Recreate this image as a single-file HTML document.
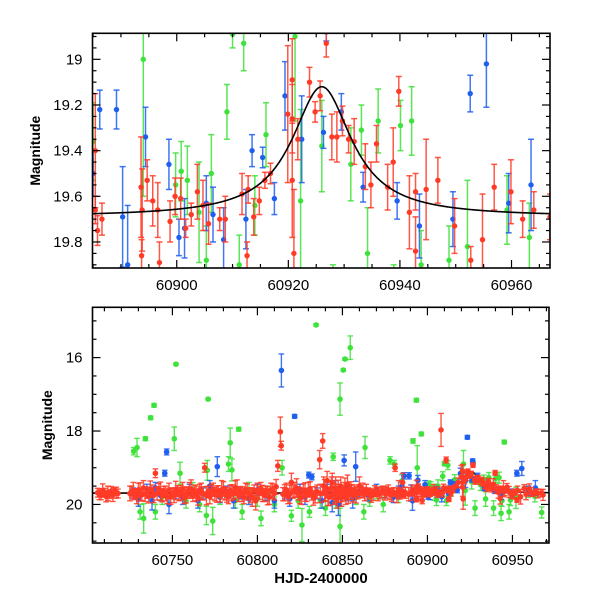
<!DOCTYPE html>
<html><head><meta charset="utf-8"><style>
html,body{margin:0;padding:0;background:#fff}
svg{display:block}
text{font-family:"Liberation Sans",sans-serif;fill:#000}
</style></head><body>
<svg id="chart" width="600" height="600" viewBox="0 0 600 600" xmlns="http://www.w3.org/2000/svg">
<defs>
<clipPath id="clipTop"><rect x="92.5" y="33.3" width="457.5" height="234.7"/></clipPath>
<clipPath id="clipBot"><rect x="92.5" y="307.3" width="456.5" height="235.7"/></clipPath>
</defs>
<g id="top"></g>
<g id="bot"></g>
</svg>
<script>
// ---- data: [HJD-2400000], magnitude, error ----
const redT=[60706,60708,60710,60713,60716,60718,60726,60728,60730,60732,60733,60735,60736,60738,60740,60741,60742,60744,60745,60747,60748,60750,60751,60753,60754,60756,60757,60759,60760,60762,60763,60765,60766,60768,60769,60771,60772,60774,60775,60777,60778,60780,60781,60783,60784,60786,60787,60789,60790,60792,60793,60795,60796,60798,60799,60801,60802,60804,60805,60807,60808,60810,60811,60812,60813.5,60814,60815,60817,60818,60820,60821,60823,60824,60826,60827,60829,60830,60832,60833,60835,60836.6,60838.4,60839,60840,60841,60842,60843,60844,60845,60846,60847,60848,60849,60850,60851,60852,60853,60854,60855,60856,60857,60859,60860,60861,60863,60864,60866,60868,60870,60872,60874,60876,60878,60880,60881,60882,60883,60884,
60885.4,60885.4,60885.8,60886.6,60893.6,60893.8,60893.7,60894.7,60895.7,60896.6,60896.9,60898.8,60899.7,60900.7,60901.6,60902.6,60903.7,60904.7,60905.7,60907.7,60908,60908.7,60911,60911.7,60912.6,60912.8,60913.8,60914.8,60915.8,60916.8,60919.9,60920.7,60920.7,60920.7,60921.7,60921,60923.8,60924.8,60925.7,60926.8,60927.8,60928.7,60929.7,60930.8,60931.8,60933.8,60934.8,60935.8,60937.8,60938.8,60939.8,60941.7,60942.8,60942.8,60944.7,60946.8,60949.8,60952.7,60954.8,60956.9,60959.9,60962,60964,60966.9];
const redM=[19.68,19.75,19.66,19.72,19.64,19.70,19.65,19.72,19.60,19.74,19.55,19.68,19.78,19.62,19.15,19.70,19.58,19.75,19.66,19.80,19.60,19.70,19.75,19.64,19.72,19.58,19.80,19.68,19.60,19.74,19.65,19.82,19.60,19.70,19.00,19.66,19.78,19.60,19.72,19.64,19.75,19.58,19.70,19.80,19.62,19.68,19.55,19.74,19.66,19.80,19.60,19.70,19.75,19.62,19.90,19.68,19.58,19.74,19.65,19.80,19.60,19.70,19.52,18.95,18.02,18.40,19.72,19.60,19.78,19.40,19.65,19.55,19.70,19.80,19.62,19.74,19.60,19.70,19.82,19.65,18.78,18.27,19.50,19.70,19.35,19.78,19.60,19.40,19.75,19.55,19.85,19.65,19.50,19.72,19.60,19.80,19.45,19.68,19.58,19.75,19.62,19.70,19.50,19.66,19.72,19.60,19.68,19.74,19.65,19.70,19.62,19.68,19.72,19.66,19.00,19.75,19.60,19.70,
19.40,19.66,19.75,19.70,19.56,19.66,19.86,19.53,19.62,19.66,19.89,19.71,19.60,19.61,19.74,19.68,19.58,19.64,19.72,19.70,17.97,19.70,18.79,19.59,19.86,19.57,19.69,19.62,19.53,19.50,19.24,19.09,19.26,19.53,19.35,19.85,19.10,19.23,19.16,18.93,19.34,19.34,19.27,19.35,19.36,19.47,19.55,19.37,19.56,19.45,19.14,19.67,19.58,19.84,19.57,19.53,19.73,19.88,19.79,19.56,19.58,19.70,19.66,19.69];
const redE=[.12,.12,.1,.12,.1,.12,.15,.15,.18,.15,.2,.15,.18,.15,.12,.18,.15,.18,.15,.18,.18,.15,.2,.15,.18,.18,.18,.15,.2,.18,.18,.2,.15,.18,.12,.15,.2,.18,.18,.15,.18,.2,.18,.18,.15,.18,.2,.18,.15,.18,.18,.15,.2,.15,.25,.18,.18,.18,.15,.2,.18,.18,.2,.15,.4,.12,.18,.18,.2,.25,.18,.25,.18,.2,.18,.18,.2,.18,.2,.18,.25,.2,.25,.2,.25,.25,.25,.25,.25,.3,.25,.2,.25,.2,.2,.2,.25,.18,.2,.18,.15,.15,.25,.15,.18,.15,.12,.15,.12,.15,.12,.15,.15,.12,.1,.2,.25,.15,
.25,.06,.065,.07,.22,.18,.07,.09,.11,.12,.09,.09,.08,.09,.04,.05,.12,.11,.09,.05,.45,.1,.08,.09,.06,.06,.08,.06,.035,.045,.3,.18,.15,.25,.09,.28,.065,.045,.065,.06,.1,.11,.065,.06,.1,.1,.1,.08,.1,.15,.065,.16,.08,.15,.22,.1,.12,.06,.2,.1,.14,.08,.08,.1];
// extra dense red epochs (bottom band)
const red2T=[60707,60709,60711,60712,60714,60715,60717,60725,60727,60729,60731,60734,60737,60739,60743,60746,60749,60752,60755,60758,60761,60764,60767,60770,60773,60776,60779,60782,60785,60788,60791,60794,60797,60800,60803,60806,60809,60816,60819,60822,60825,60828,60831,60834,60837,60839.5,60841.5,60843.5,60845.5,60847.5,60849.5,60851.5,60853.5,60855.5,60858,60862,60865,60867,60869,60871,60873,60875,60877,60879,60887,60889,60891,60892,60897.5,60906,60909.5,60918,60923,60932.5,60936.5,60940.5,60945.5,60948,60951,60953,60958,60961,60965,60968];
const red2M=[19.72,19.62,19.78,19.70,19.66,19.74,19.68,19.70,19.62,19.78,19.66,19.72,19.58,19.75,19.64,19.70,19.78,19.62,19.68,19.74,19.58,19.70,19.64,19.76,19.66,19.72,19.60,19.74,19.68,19.58,19.72,19.66,19.80,19.62,19.70,19.76,19.64,19.68,19.72,19.60,19.76,19.66,19.58,19.74,19.70,19.62,19.78,19.55,19.70,19.64,19.80,19.58,19.72,19.66,19.74,19.62,19.70,19.76,19.64,19.72,19.66,19.70,19.62,19.74,19.68,19.72,19.62,19.70,19.66,19.64,19.55,19.40,19.25,19.40,19.52,19.58,19.64,19.66,19.70,19.62,19.72,19.66,19.70,19.74];
const red2E=[.15,.18,.15,.2,.15,.18,.15,.2,.22,.2,.25,.2,.22,.2,.25,.2,.22,.25,.2,.22,.25,.2,.22,.25,.2,.22,.25,.2,.22,.25,.2,.22,.25,.2,.22,.25,.2,.22,.25,.2,.22,.25,.2,.22,.25,.3,.25,.3,.25,.3,.25,.3,.25,.2,.22,.2,.15,.18,.15,.18,.15,.18,.15,.18,.15,.18,.15,.18,.1,.12,.1,.12,.1,.1,.1,.12,.12,.15,.12,.12,.15,.12,.12,.15];

const blueT=[60727,60730,60735,60738,60740,60743,60745.5,60746.6,60748,60752,60756,60760,60765,60768,60772,60776.4,60778,60782,60786,60790,60795,60800,60805,60810,60814.1,60816,60819,60821.9,60825,60828,60830.2,60832,60835,60838,60841,60844,60846,60847.6,60849,60851,60853,60856,60857.8,60860,60865,60870,60875,60880,60883,
60885,60886.2,60889.2,60890.3,60891.2,60894.4,60898.6,60900.4,60901.4,60905.3,60906.5,60908.4,60912.4,60913.5,60915.4,60917.5,60919.4,60922.4,60923.5,60926.3,60926.6,60926.8,60929.5,60933.4,60939.5,60943.5,60949.5,60952.6,60955.5,60959.5,60963.5];
const blueM=[19.70,19.85,19.60,19.90,19.55,19.75,19.15,18.57,20.00,19.70,19.80,19.60,19.90,19.70,19.50,18.97,19.80,19.65,19.90,19.70,19.85,19.60,19.75,19.90,16.35,19.70,19.85,17.60,19.60,19.80,19.20,19.25,19.70,19.90,19.60,19.95,19.55,20.00,19.80,18.80,19.70,19.85,18.97,19.65,19.75,19.60,19.70,19.80,19.65,
19.50,19.22,19.22,19.69,19.90,19.34,19.46,19.78,19.74,19.63,19.68,19.79,19.70,19.40,19.43,19.61,19.16,19.35,18.17,19.32,18.81,18.88,19.23,19.56,19.62,19.73,19.70,19.15,19.02,19.63,19.55];
const blueE=[.15,.2,.15,.25,.15,.15,.08,.08,.25,.15,.2,.15,.2,.15,.15,.27,.15,.15,.2,.15,.15,.15,.15,.2,.45,.15,.2,.05,.15,.2,.08,.08,.15,.2,.15,.25,.2,.3,.25,.15,.2,.25,.4,.15,.15,.15,.12,.15,.15,
.1,.085,.085,.22,.26,.13,.11,.08,.13,.12,.12,.14,.13,.07,.045,.07,.15,.19,.05,.07,.05,.04,.08,.065,.08,.14,.12,.08,.19,.13,.2];

const greenT=[60727.2,60729.2,60731,60733.1,60734.1,60737.2,60739.2,60740,60744,60751.1,60752.1,60754.5,60758,60762,60766,60770,60770.5,60771,60773.7,60778,60783,60784,60785,60787,60789,60791,60795,60800,60802.1,60806,60810,60814.5,60820,60824,60826.2,60830.6,60834.5,60837,60840,60844.6,60846,60848.6,60848.6,60850.5,60851.5,60854.6,60858,60862.6,60863.3,60866,60870,60874,60878,60880.5,60883,
60885,60891.5,60893.5,60894,60896.4,60899.8,60900.8,60901.9,60904,60905.3,60906.2,60909,60910,60911.2,60912,60914,60916,60921.2,60922.2,60926,60928,60931.2,60933.1,60934.2,60936.1,60938.9,60940.1,60942.1,60943.3,60943.8,60945.2,60948,60948.8,60952.1,60959.2,60963.2,60967.2];
const greenM=[18.55,18.45,20.20,20.38,18.21,17.64,17.30,20.20,19.80,18.21,16.18,19.15,19.90,19.60,20.00,20.30,19.07,17.13,20.45,19.80,18.90,18.32,19.06,19.90,17.95,20.20,19.60,19.85,20.38,19.70,20.00,19.00,20.31,19.90,20.56,20.20,15.11,19.90,20.10,18.70,19.95,17.13,20.60,16.34,16.04,15.73,19.80,20.20,18.45,19.90,19.70,20.00,18.80,18.90,19.80,
19.36,18.27,17.16,19.00,18.08,19.55,19.49,19.53,19.67,19.88,19.50,19.23,18.89,19.90,18.93,19.64,19.33,18.90,19.62,19.38,20.10,19.46,19.31,19.85,19.27,20.10,19.29,19.27,20.24,19.90,18.30,20.20,19.88,19.82,19.66,19.78,20.22];
const greenE=[.1,.25,.2,.4,.05,.05,.05,.2,.2,.32,.03,.3,.2,.2,.2,.25,.27,.03,.37,.2,.2,.4,.3,.2,.05,.2,.2,.2,.2,.2,.2,.2,.15,.2,.45,.15,.03,.2,.2,.1,.15,.44,.5,.03,.03,.32,.2,.2,.3,.15,.15,.2,.1,.1,.15,
.17,.06,.05,.6,.05,.14,.13,.15,.22,.15,.17,.12,.06,.13,.12,.13,.14,.37,.4,.2,.2,.16,.11,.2,.14,.2,.11,.15,.2,.15,.05,.2,.15,.29,.15,.15,.15];

// model curve parameters
const modelBase=[19.69];
const modelPeak=[60926, 0.57, 6.5]; // t0, amplitude (mag), width (days)

const topXTicks=[60900,60920,60940,60960];
const topYTicks=[19,19.2,19.4,19.6,19.8];
const botXTicks=[60750,60800,60850,60900,60950];
const botYTicks=[16,18,20];

const NS="http://www.w3.org/2000/svg";
function mk(tag,attrs,parent){const e=document.createElementNS(NS,tag);for(const k in attrs)e.setAttribute(k,attrs[k]);parent.appendChild(e);return e;}

const COL={green:"#3ee23a",blue:"#1f5ff0",red:"#ff3a26"};

function panel(g,cfg){
  const {x0,x1,y0,y1,t0,t1,m0,m1}=cfg;
  const xs=t=>x0+(t-t0)/(t1-t0)*(x1-x0);
  const ys=m=>y0+(m-m0)/(m1-m0)*(y1-y0);
  const data=mk('g',{'clip-path':`url(#${cfg.clip})`},g);
  function curve(){
    let d='';
    for(let k=0;k<=600;k++){
      const t=t0+(t1-t0)*k/600;
      const m=modelBase[0]-modelPeak[1]/(1+Math.pow((t-modelPeak[0])/modelPeak[2],2));
      d+=(k?'L':'M')+xs(t).toFixed(2)+','+ys(m).toFixed(2);
    }
    const mc=mk('path',{d:d,fill:'none',stroke:'#000','stroke-width':1.6},data);
    
    
  }
  if(!cfg.curveOnTop) curve();
  const series=[['green',greenT,greenM,greenE],['blue',blueT,blueM,blueE],['red',redT,redM,redE]];
  if(cfg.extra) series.push(['red',red2T,red2M,red2E]);
  series.forEach(([name,T,M,E])=>{
    const sg=mk('g',{},data);
    
    
    for(let i=0;i<T.length;i++){
      const x=xs(T[i]),y=ys(M[i]),ya=ys(M[i]-E[i]),yb=ys(M[i]+E[i]);
      const pg=mk('g',{stroke:COL[name],'stroke-width':cfg.sw,fill:COL[name],'stroke-opacity':0.85},sg);
      
      
      mk('line',{x1:x,x2:x,y1:ya,y2:yb},pg);
      mk('line',{x1:x-cfg.cap,x2:x+cfg.cap,y1:ya,y2:ya},pg);
      mk('line',{x1:x-cfg.cap,x2:x+cfg.cap,y1:yb,y2:yb},pg);
      mk('circle',{cx:x,cy:y,r:cfg.r,stroke:'none'},pg);
    }
  });
  if(cfg.curveOnTop) curve();
  const fr=mk('rect',{x:x0,y:y0,width:x1-x0,height:y1-y0,fill:'none',stroke:'#000','stroke-width':1.6},g);
  
  
  const ax=mk('g',{stroke:'#000','stroke-width':1.2},g);
  for(let t=Math.ceil(t0/cfg.xMinor)*cfg.xMinor;t<=t1;t+=cfg.xMinor){
    const x=xs(t);const major=Math.abs(t/cfg.xMajor-Math.round(t/cfg.xMajor))<1e-6;const L=major?8:4;
    mk('line',{x1:x,x2:x,y1:y1,y2:y1-L},ax);mk('line',{x1:x,x2:x,y1:y0,y2:y0+L},ax);
  }
  for(let m=Math.ceil(m0/cfg.yMinor-1e-9)*cfg.yMinor;m<=m1+1e-9;m+=cfg.yMinor){
    const y=ys(m);const major=Math.abs(m/cfg.yMajor-Math.round(m/cfg.yMajor))<1e-6;const L=major?8:4;
    mk('line',{x1:x0,x2:x0+L,y1:y,y2:y},ax);mk('line',{x1:x1,x2:x1-L,y1:y,y2:y},ax);
  }
  cfg.xt.forEach(t=>{
    const tx=mk('text',{x:xs(t),y:y1+22,'text-anchor':'middle','font-size':15},g);
    tx.textContent=t;
    
    
  });
  cfg.yt.forEach(m=>{
    const tx=mk('text',{x:x0-10,y:ys(m)+5,'text-anchor':'end','font-size':15},g);
    tx.textContent=m;
    
    
  });
  const yl=mk('text',{x:cfg.ytx,y:(y0+y1)/2,'text-anchor':'middle','font-size':14,'font-weight':'bold',transform:`rotate(-90 ${cfg.ytx} ${(y0+y1)/2})`},g);
  yl.textContent='Magnitude';
  
  
}

panel(document.getElementById('top'),{x0:92.5,x1:550,y0:33.3,y1:268,t0:60884.9,t1:60966.9,m0:18.886,m1:19.914,
  clip:'clipTop',sw:1.5,cap:3,r:2.7,xMinor:5,xMajor:20,yMinor:0.05,yMajor:0.2,xt:topXTicks,yt:topYTicks,ytx:40,curveOnTop:true,extra:false});
panel(document.getElementById('bot'),{x0:92.5,x1:549,y0:307.3,y1:543,t0:60703,t1:60971.5,m0:14.63,m1:21.05,
  clip:'clipBot',sw:1.4,cap:2.8,r:2.8,xMinor:10,xMajor:50,yMinor:0.5,yMajor:2,xt:botXTicks,yt:botYTicks,ytx:52,curveOnTop:false,extra:true});
const xt=mk('text',{x:321,y:583,'text-anchor':'middle','font-size':15,'font-weight':'bold','font-family':'Liberation Serif, serif'},document.getElementById('bot'));
xt.textContent='HJD-2400000';


</script>
</body></html>
